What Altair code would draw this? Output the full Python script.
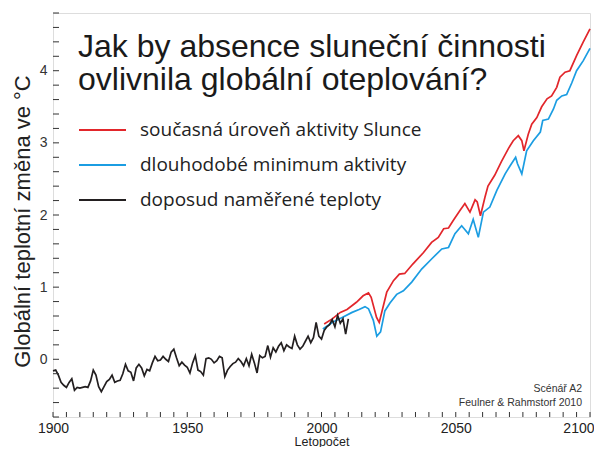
import altair as alt
import pandas as pd

# ---- data ----
obs_years = list(range(1900, 2011))
obs_vals = [-0.16, -0.15, -0.22, -0.32, -0.36, -0.39, -0.32, -0.27, -0.43, -0.39,
            -0.40, -0.39, -0.38, -0.39, -0.30, -0.15, -0.22, -0.38, -0.45, -0.38,
            -0.31, -0.28, -0.22, -0.32, -0.30, -0.29, -0.20, -0.07, -0.16, -0.18,
            -0.30, -0.12, -0.07, -0.12, -0.23, -0.14, -0.16, -0.05, 0.04, -0.02,
            -0.01, 0.04, 0.00, -0.03, 0.10, 0.14, 0.02, -0.09, -0.04, -0.08,
            -0.11, -0.19, -0.05, 0.05, -0.15, -0.17, -0.22, 0.01, 0.02, 0.00,
            -0.05, -0.02, 0.04, 0.02, -0.24, -0.15, -0.10, -0.06, -0.04, 0.01,
            -0.03, -0.09, 0.01, -0.09, 0.07, -0.05, -0.19, 0.05, 0.02, 0.04,
            0.19, 0.03, 0.16, 0.10, 0.18, 0.23, 0.12, 0.20, 0.17, 0.15,
            0.32, 0.20, 0.14, 0.18, 0.25, 0.32, 0.23, 0.30, 0.51, 0.32,
            0.28, 0.40, 0.45, 0.48, 0.55, 0.45, 0.61, 0.50, 0.56, 0.35,
            0.56]

red_years = [2001, 2004, 2007, 2009.5, 2013, 2015.5, 2017.5, 2018.5, 2020.5, 2021.5,
             2024.3, 2026.8, 2029, 2031, 2034, 2038, 2041, 2043.5, 2045.5, 2047.3,
             2049, 2051.5, 2053.4, 2055.3, 2057.2, 2058, 2059.2, 2060.9, 2062, 2064.5,
             2067, 2069.6, 2071.4, 2073.3, 2074.6, 2075.4, 2077, 2078.3, 2080.2, 2082,
             2084, 2085.7, 2087.6, 2088.8, 2090.7, 2092.5, 2095, 2097.5, 2100]
red_vals = [0.49, 0.56, 0.65, 0.69, 0.79, 0.88, 0.92, 0.86, 0.58, 0.51,
            0.93, 1.09, 1.18, 1.19, 1.32, 1.48, 1.62, 1.69, 1.81, 1.82,
            1.92, 2.06, 2.16, 2.04, 2.21, 2.18, 1.99, 2.25, 2.40, 2.55,
            2.74, 2.92, 3.03, 3.10, 3.03, 2.89, 3.12, 3.26, 3.35, 3.50,
            3.61, 3.65, 3.77, 3.91, 3.98, 4.00, 4.21, 4.40, 4.58]

blue_years = [2000.5, 2004, 2007.7, 2011.4, 2014, 2016.2, 2017.5, 2019.3, 2020.6, 2022,
              2023.6, 2025.5, 2028, 2030.5, 2033.6, 2037.3, 2041, 2044.8, 2047.3, 2049.7,
              2052.2, 2054.7, 2056.5, 2058.4, 2060.3, 2062.7, 2065.3, 2068.4, 2070.2, 2072.3,
              2073, 2074.6, 2076.4, 2078.9, 2081.5, 2082.4, 2084.5, 2086.4, 2087.6, 2089.5,
              2091.3, 2093.2, 2095, 2097.5, 2100]
blue_vals = [0.42, 0.51, 0.58, 0.65, 0.69, 0.73, 0.70, 0.54, 0.32, 0.38,
             0.67, 0.78, 0.90, 0.95, 1.07, 1.25, 1.39, 1.53, 1.55, 1.74,
             1.85, 1.74, 1.94, 1.69, 2.04, 2.11, 2.34, 2.57, 2.68, 2.80,
             2.71, 2.57, 2.89, 3.03, 3.15, 3.31, 3.33, 3.47, 3.59, 3.65,
             3.67, 3.83, 4.00, 4.14, 4.31]

series_names = ["současná úroveň aktivity Slunce",
                "dlouhodobé minimum aktivity",
                "doposud naměřené teploty"]
series_colors = ["#e2262b", "#1b9de2", "#231f20"]

title_text = "Jak by absence sluneční činnosti\novlivnila globální oteplování?"
note_text = "Scénář A2\nFeulner & Rahmstorf 2010"
x_label_values = [1900, 1950, 2000, 2050, 2100]
y_label_values = [0, 1, 2, 3, 4]
x_tick_values = list(range(1900, 2101, 5))
y_tick_values = [round(-0.8 + 0.2 * i, 1) for i in range(29)]

# ---- tables ----
rows = []
for name, yrs, vals in [(series_names[0], red_years, red_vals),
                        (series_names[1], blue_years, blue_vals),
                        (series_names[2], obs_years, obs_vals)]:
    for y, v in zip(yrs, vals):
        rows.append({"rok": y, "teplota": v, "serie": name})
df = pd.DataFrame(rows)

W, H = 537, 404
xscale = alt.Scale(domain=[1900, 2100], nice=False, zero=False)
yscale = alt.Scale(domain=[-0.8, 4.8], nice=False, zero=False)

last_label = "datum.value == 2100"

lines = alt.Chart(df).mark_line(strokeWidth=1.7, interpolate="linear").encode(
    x=alt.X("rok:Q", scale=xscale,
            axis=alt.Axis(title="Letopočet", values=x_label_values, format="d",
                          ticks=False, domain=False, grid=False, labelFlush=False,
                          labelPadding=4, labelFontSize=14, labelColor="#222",
                          labelAlign=alt.condition(last_label, alt.value("right"), alt.value("center")),
                          labelOffset=alt.condition(last_label, alt.value(4), alt.value(0)),
                          labelFont="Liberation Sans", titleFont="Liberation Sans",
                          titleFontSize=12.5, titleFontWeight="normal", titleColor="#222",
                          titlePadding=0)),
    y=alt.Y("teplota:Q", scale=yscale,
            axis=alt.Axis(title="Globální teplotní změna  ve °C", values=y_label_values,
                          format="d", ticks=False, domain=False, grid=False,
                          labelFlush=False, labelPadding=6, labelFontSize=14,
                          labelColor="#333", labelFont="Liberation Sans",
                          titleFont="Liberation Sans", titleFontSize=22,
                          titleY=208,
                          titleFontWeight="normal", titleColor="#222", titlePadding=5)),
    color=alt.Color("serie:N",
                    scale=alt.Scale(domain=series_names, range=series_colors),
                    sort=series_names,
                    legend=alt.Legend(title=None, orient="none", legendX=25, legendY=92.5,
                                      symbolType="stroke", symbolSize=2209,
                                      symbolStrokeWidth=1.8, labelFontSize=19,
                                      labelFont="Open Sans", labelColor="#222",
                                      labelOffset=13, rowPadding=-15.3,
                                      labelLimit=450)),
    detail="serie:N",
)

ytick_df = pd.DataFrame({"v": y_tick_values})
xtick_df = pd.DataFrame({"v": x_tick_values})

yticks = alt.Chart(ytick_df).mark_rule(color="#333", strokeWidth=1).encode(
    y=alt.Y("v:Q", scale=yscale), x=alt.value(0), x2=alt.value(6))
xticks = alt.Chart(xtick_df).mark_rule(color="#333", strokeWidth=1).encode(
    x=alt.X("v:Q", scale=xscale), y=alt.value(H), y2=alt.value(H - 5))

title = alt.Chart(pd.DataFrame({"t": [title_text]})).mark_text(
    align="left", baseline="alphabetic", fontSize=32, lineHeight=33,
    font="Liberation Sans", color="#1a1a1a", lineBreak="\n").encode(
    text="t:N", x=alt.value(25), y=alt.value(44))

note = alt.Chart(pd.DataFrame({"t": [note_text]})).mark_text(
    align="right", baseline="alphabetic", fontSize=10.5, lineHeight=14,
    font="Liberation Sans", color="#333", lineBreak="\n").encode(
    text="t:N", x=alt.value(529), y=alt.value(379))

chart = alt.layer(lines, yticks, xticks, title, note).properties(
    width=W, height=H,
    autosize=alt.AutoSizeParams(type="none"),
    padding={"left": 45, "top": 5, "right": 4, "bottom": 30},
).configure_view(stroke="#333", strokeWidth=1.6).configure(background="white")

chart.save("out.html", embed_options={"renderer": "svg", "actions": False})
